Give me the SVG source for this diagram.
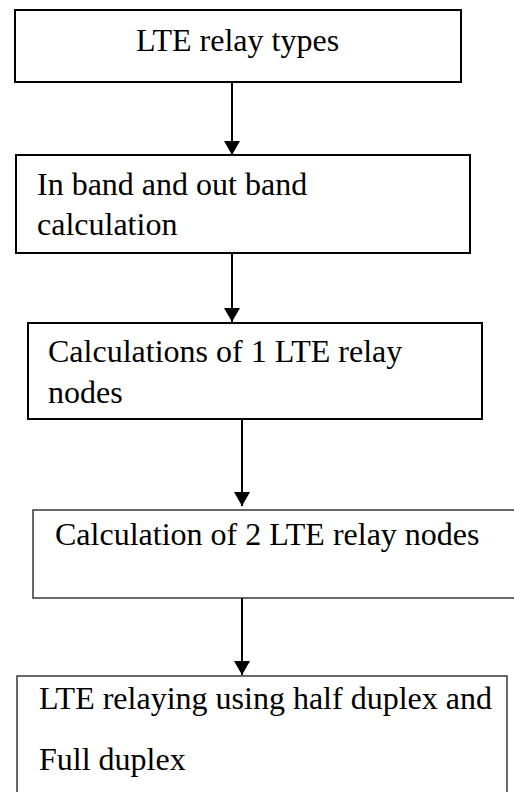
<svg xmlns="http://www.w3.org/2000/svg" width="514" height="792" viewBox="0 0 514 792">
  <style>
    .box { fill: #ffffff; stroke: #000000; stroke-width: 2; }
    .box-thin { fill: #ffffff; stroke: #2a2a2a; stroke-width: 1.4; }
    .label { font-family: "Liberation Serif", "Times New Roman", serif; font-size: 32px; fill: #000000; }
    .edge { stroke: #000000; stroke-width: 2; fill: none; marker-end: url(#arrow); }
  </style>
  <defs>
    <marker id="arrow" markerUnits="userSpaceOnUse" markerWidth="16" markerHeight="18" refX="14" refY="8" orient="auto">
      <path d="M0,0 L14,8 L0,16 z" fill="#000000"/>
    </marker>
  </defs>
  <rect width="514" height="792" fill="#ffffff"/>

  <g id="connectors">
    <line class="edge" x1="232" y1="83" x2="232" y2="155"/>
    <line class="edge" x1="232" y1="254" x2="232" y2="322"/>
    <line class="edge" x1="242" y1="420" x2="242" y2="506"/>
    <line class="edge" x1="242" y1="598" x2="242" y2="675"/>
  </g>

  <g id="node-relay-types">
    <rect class="box" x="15" y="10" width="446" height="72"/>
    <text class="label" x="237.5" y="51" text-anchor="middle">LTE relay types</text>
  </g>

  <g id="node-band-calculation">
    <rect class="box" x="16" y="155" width="454" height="98"/>
    <text class="label" x="37" y="195">In band and out band</text>
    <text class="label" x="37" y="235">calculation</text>
  </g>

  <g id="node-one-relay">
    <rect class="box" x="28" y="323" width="454" height="96"/>
    <text class="label" x="48" y="362">Calculations of 1 LTE relay</text>
    <text class="label" x="48" y="403">nodes</text>
  </g>

  <g id="node-two-relays">
    <rect class="box-thin" x="33" y="510" width="490" height="88"/>
    <text class="label" x="55" y="545">Calculation of 2 LTE relay nodes</text>
  </g>

  <g id="node-duplex">
    <rect class="box-thin" x="17" y="676" width="490" height="130"/>
    <text class="label" x="39" y="709">LTE relaying using half duplex and</text>
    <text class="label" x="39" y="770">Full duplex</text>
  </g>
</svg>
